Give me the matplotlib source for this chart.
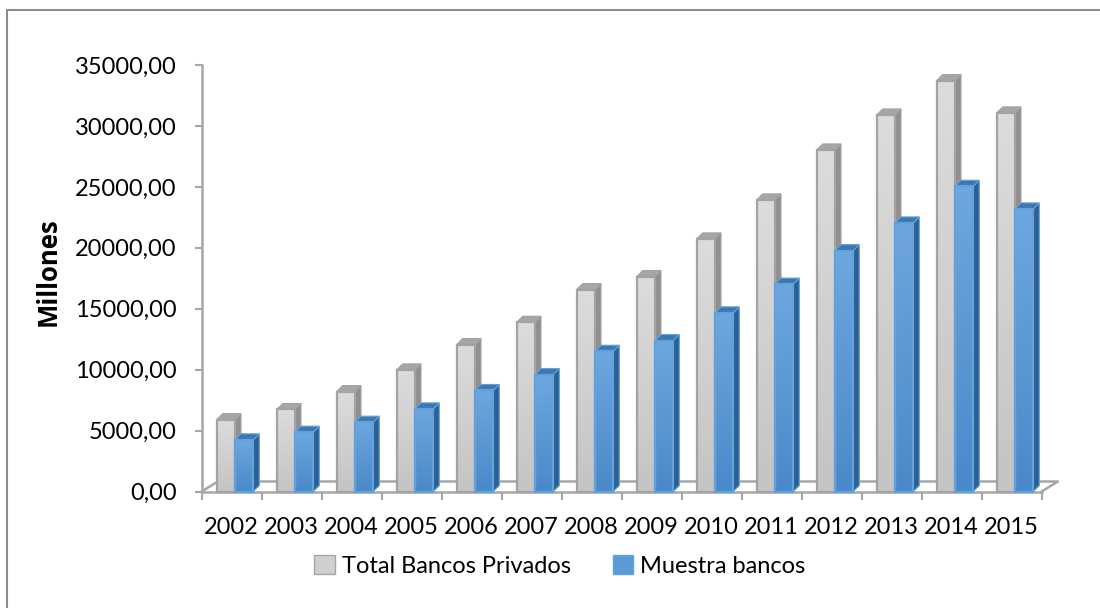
import matplotlib
matplotlib.use("Agg")
import matplotlib.pyplot as plt
import numpy as np
from matplotlib.patches import Polygon, Rectangle, Patch

#%% Datos

anios = ['2002', '2003', '2004', '2005', '2006', '2007', '2008',
         '2009', '2010', '2011', '2012', '2013', '2014', '2015']

totalBancos = [5900, 6730, 8200, 9980, 12060, 13890, 16570,
               17640, 20730, 23930, 28030, 30900, 33720, 31070]

muestraBancos = [4240, 4870, 5690, 6780, 8290, 9600, 11510,
                 12390, 14660, 17020, 19770, 22040, 25050, 23190]

yticks = [0, 5000, 10000, 15000, 20000, 25000, 30000, 35000]
ytick_labels = ['0,00', '5000,00', '10000,00', '15000,00',
                '20000,00', '25000,00', '30000,00', '35000,00']

#%% Estilo

plt.rcParams['font.family'] = ['Lato', 'DejaVu Sans']

W, H = 1100, 608
fig = plt.figure(figsize=(W / 100, H / 100), dpi=100)

# marco del gráfico (solo se ven borde superior e izquierdo)
fig.patches.append(Rectangle((7 / W, -0.2), 1.5, 1.2 - 9.5 / H,
                             transform=fig.transFigure, fill=False,
                             edgecolor='#8c8c8c', linewidth=1.5))

ax = fig.add_axes([201.7 / W, (H - 491.5) / H, 840 / W, 426.5 / H])

n = len(anios)
px_y = 426.5 / 35000.0          # pixeles por unidad
dx = 6 / 60.0                   # profundidad de la barra (en categorías)
dy = 6 / px_y                   # profundidad de la barra (en valores)
bw = 0.305                      # ancho de cada barra

def barra3d(x0, v, c_top, c_bot, c_edge, c_side, c_cap):
    grad = np.linspace(0, 1, 64).reshape(-1, 1)
    cmap = matplotlib.colors.LinearSegmentedColormap.from_list('g', [c_bot, c_top])
    ax.imshow(grad, extent=(x0, x0 + bw, 0, v), origin='lower', aspect='auto',
              cmap=cmap, zorder=3, interpolation='bilinear')
    side = Polygon([(x0 + bw, 0), (x0 + bw + dx, dy), (x0 + bw + dx, v + dy),
                    (x0 + bw, v)], closed=True, facecolor=c_side,
                   edgecolor=c_edge, linewidth=0.8, zorder=3, clip_on=False)
    cap = Polygon([(x0, v), (x0 + dx, v + dy), (x0 + bw + dx, v + dy),
                   (x0 + bw, v)], closed=True, facecolor=c_cap,
                  edgecolor=c_edge, linewidth=0.8, zorder=3, clip_on=False)
    front = Rectangle((x0, 0), bw, v, fill=False, edgecolor=c_edge,
                      linewidth=1.6, zorder=3.1, clip_on=False)
    ax.add_patch(side)
    ax.add_patch(cap)
    ax.add_patch(front)

# piso 3D
fdx, fdy = 0.27, 10 / px_y
ax.plot([0, fdx, n + fdx, n], [0, fdy, fdy, 0], color='#a6a6a6', lw=1.8,
        zorder=2, clip_on=False)

for i in range(n):
    barra3d(i + 0.25, totalBancos[i], '#dcdcdc', '#c4c4c4', '#a3a3a3',
            '#8f8f8f', '#a6a6a6')
    barra3d(i + 0.25 + bw, muestraBancos[i], '#6fa6de', '#4a89c9', '#5da2e3',
            '#2f5f8c', '#3f77ad')

ax.set_xlim(0, n)
ax.set_ylim(0, 35000)

for s in ['top', 'right']:
    ax.spines[s].set_visible(False)
ax.spines['left'].set_color('#a6a6a6')
ax.spines['bottom'].set_color('#a6a6a6')
ax.spines['left'].set_linewidth(1.8)
ax.spines['bottom'].set_linewidth(1.8)
ax.set_facecolor('none')

ax.set_yticks(yticks)
ax.set_yticklabels(ytick_labels, fontsize=17)
ax.tick_params(axis='y', length=5, width=1.5, color='#a6a6a6', pad=13)

ax.set_xticks(np.arange(n + 1))
ax.set_xticklabels([])
ax.tick_params(axis='x', which='major', length=6, width=1.5, color='#a6a6a6')
ax.set_xticks(np.arange(n) + 0.5, minor=True)
ax.set_xticklabels(anios, minor=True, fontsize=17)
ax.tick_params(axis='x', which='minor', length=0, pad=18)

ax.set_ylabel('Millones', fontsize=18.5, fontweight='bold',
              family=['Open Sans', 'DejaVu Sans'])
ax.yaxis.set_label_coords(-140 / 840, 0.515)

handles = [Patch(facecolor='#cfcfcf', edgecolor='#a6a6a6', label='Total Bancos Privados'),
           Patch(facecolor='#5b9bd5', edgecolor='#5da2e3', label='Muestra bancos')]
fig.legend(handles=handles, loc='center', bbox_to_anchor=(560 / W, (H - 566) / H),
           ncol=2, frameon=False, fontsize=17, handlelength=0.85,
           handleheight=0.85, handletextpad=0.3, columnspacing=1.8)

plt.savefig('out.png', dpi=100)
